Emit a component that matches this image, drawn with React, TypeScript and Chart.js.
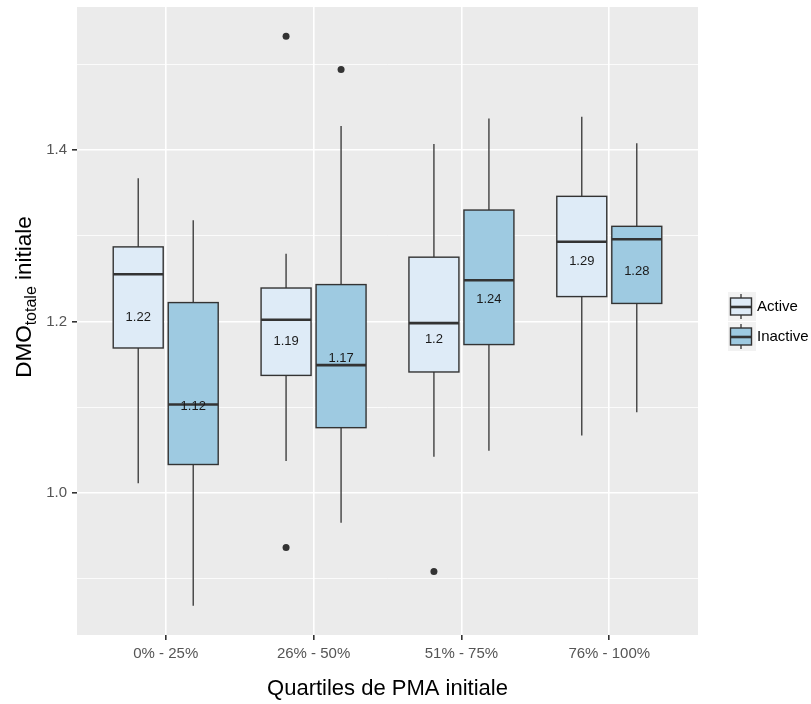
import { useEffect, useRef } from "react";
import { Chart, registerables } from "chart.js";

Chart.register(...registerables);

// ---------- data ----------
const categories = ["0% - 25%", "26% - 50%", "51% - 75%", "76% - 100%"];
const seriesNames = ["Active", "Inactive"];

const activeLow = [1.011, 1.037, 1.042, 1.067];
const activeQ1 = [1.169, 1.137, 1.141, 1.229];
const activeMedian = [1.255, 1.202, 1.198, 1.293];
const activeQ3 = [1.287, 1.239, 1.275, 1.346];
const activeHigh = [1.367, 1.279, 1.407, 1.439];
const activeMean = [1.222, 1.194, 1.196, 1.288];
const activeOutliers = [[], [1.533, 0.936], [0.908], []];

const inactiveLow = [0.868, 0.965, 1.049, 1.094];
const inactiveQ1 = [1.033, 1.076, 1.173, 1.221];
const inactiveMedian = [1.103, 1.149, 1.248, 1.296];
const inactiveQ3 = [1.222, 1.243, 1.33, 1.311];
const inactiveHigh = [1.318, 1.428, 1.437, 1.408];
const inactiveMean = [1.118, 1.174, 1.243, 1.276];
const inactiveOutliers = [[], [1.494], [], []];

const yMajorTicks = [1.0, 1.2, 1.4];
const yMinorTicks = [0.9, 1.1, 1.3, 1.5];

// ---------- style ----------
const FONT = "'Liberation Sans', Arial, Helvetica, sans-serif";
const fills = ["#DEEBF7", "#9ECAE1"];
const lineCol = "#333333";
const DODGE = 0.186;
const HALF_W = 0.169;

const series = [
  { low: activeLow, q1: activeQ1, med: activeMedian, q3: activeQ3, high: activeHigh, mean: activeMean, out: activeOutliers },
  { low: inactiveLow, q1: inactiveQ1, med: inactiveMedian, q3: inactiveQ3, high: inactiveHigh, mean: inactiveMean, out: inactiveOutliers },
];

function drawBox(ctx: CanvasRenderingContext2D, cx: number, hw: number, yLow: number, yQ1: number, yMed: number, yQ3: number, yHigh: number, fill: string) {
  ctx.save();
  ctx.strokeStyle = lineCol;
  ctx.lineWidth = 1.3;
  ctx.beginPath();
  ctx.moveTo(cx, yHigh);
  ctx.lineTo(cx, yQ3);
  ctx.moveTo(cx, yQ1);
  ctx.lineTo(cx, yLow);
  ctx.stroke();
  ctx.fillStyle = fill;
  ctx.fillRect(cx - hw, yQ3, hw * 2, yQ1 - yQ3);
  ctx.lineWidth = 1.4;
  ctx.strokeRect(cx - hw, yQ3, hw * 2, yQ1 - yQ3);
  ctx.lineWidth = 2.6;
  ctx.beginPath();
  ctx.moveTo(cx - hw, yMed);
  ctx.lineTo(cx + hw, yMed);
  ctx.stroke();
  ctx.restore();
}

const boxPlugin = {
  id: "ggBox",
  beforeDraw(chart: any) {
    const { ctx, chartArea: a } = chart;
    ctx.save();
    ctx.fillStyle = "#EBEBEB";
    ctx.fillRect(a.left, a.top, a.right - a.left, a.bottom - a.top);
    ctx.restore();
  },
  beforeDatasetsDraw(chart: any) {
    const { ctx } = chart;
    const xs = chart.scales.x;
    const ys = chart.scales.y;
    series.forEach((s, si) => {
      const off = si === 0 ? -DODGE : DODGE;
      categories.forEach((_, i) => {
        const xv = i + 1 + off;
        const cx = xs.getPixelForValue(xv);
        const hw = xs.getPixelForValue(xv + HALF_W) - cx;
        drawBox(
          ctx, cx, hw,
          ys.getPixelForValue(s.low[i]),
          ys.getPixelForValue(s.q1[i]),
          ys.getPixelForValue(s.med[i]),
          ys.getPixelForValue(s.q3[i]),
          ys.getPixelForValue(s.high[i]),
          fills[si]
        );
      });
    });
    // mean labels
    ctx.save();
    ctx.font = `13px ${FONT}`;
    ctx.fillStyle = "#1a1a1a";
    ctx.textAlign = "center";
    ctx.textBaseline = "middle";
    series.forEach((s, si) => {
      const off = si === 0 ? -DODGE : DODGE;
      categories.forEach((_, i) => {
        const cx = xs.getPixelForValue(i + 1 + off);
        const y = ys.getPixelForValue(s.mean[i]) + 15;
        ctx.fillText(String(Number(s.mean[i].toFixed(2))), cx, y);
      });
    });
    ctx.restore();
  },
  afterDraw(chart: any) {
    const { ctx, chartArea: a } = chart;
    ctx.save();
    // x title
    ctx.fillStyle = "#000";
    ctx.font = `22px ${FONT}`;
    ctx.textAlign = "center";
    ctx.textBaseline = "middle";
    ctx.fillText("Quartiles de PMA initiale", (a.left + a.right) / 2, 689);
    // y title with subscript
    ctx.save();
    ctx.translate(23, 297);
    ctx.rotate(-Math.PI / 2);
    ctx.textBaseline = "alphabetic";
    ctx.textAlign = "left";
    const big = `22.5px ${FONT}`;
    const small = `16px ${FONT}`;
    ctx.font = big;
    const w1 = ctx.measureText("DMO").width;
    const w3 = ctx.measureText(" initiale").width;
    ctx.font = small;
    const w2 = ctx.measureText("totale").width;
    const total = w1 + w2 + w3;
    let x = -total / 2;
    const base = 8;
    ctx.font = big;
    ctx.fillText("DMO", x, base);
    x += w1;
    ctx.font = small;
    ctx.fillText("totale", x, base + 5);
    x += w2;
    ctx.font = big;
    ctx.fillText(" initiale", x, base);
    ctx.restore();

    // legend
    const keyX = 728;
    const keyW = 28;
    const keyH = 29;
    const top0 = 292;
    seriesNames.forEach((name, i) => {
      const ky = top0 + i * (keyH + 1);
      ctx.fillStyle = "#F2F2F2";
      ctx.fillRect(keyX, ky, keyW, keyH);
      const cx = keyX + 13;
      drawBox(ctx, cx, 10.5, ky + keyH - 2, ky + 23, ky + 15, ky + 6, ky + 2, fills[i]);
      ctx.fillStyle = "#000";
      ctx.font = `15px ${FONT}`;
      ctx.textAlign = "left";
      ctx.textBaseline = "middle";
      ctx.fillText(name, keyX + keyW + 1, ky + 15);
    });
    ctx.restore();
  },
};

export default function App() {
  const ref = useRef<HTMLCanvasElement | null>(null);

  useEffect(() => {
    document.body.style.margin = "0";
    const canvas = ref.current;
    if (!canvas) return;

    const outlierData = (si: number) => {
      const off = si === 0 ? -DODGE : DODGE;
      const pts: { x: number; y: number }[] = [];
      series[si].out.forEach((arr, i) => arr.forEach((v) => pts.push({ x: i + 1 + off, y: v })));
      return pts;
    };

    const yTicks = [...yMinorTicks, ...yMajorTicks].sort((p, q) => p - q);
    const isMajor = (v: number) => yMajorTicks.some((m) => Math.abs(m - v) < 1e-6);

    const chart = new Chart(canvas, {
      type: "scatter",
      data: {
        datasets: seriesNames.map((name, si) => ({
          label: name,
          data: outlierData(si),
          pointRadius: 3.5,
          pointBackgroundColor: "#333333",
          pointBorderWidth: 0,
          pointBorderColor: "#333333",
        })),
      },
      options: {
        animation: false,
        responsive: true,
        maintainAspectRatio: false,
        layout: { padding: { top: 7, right: 113, left: 0, bottom: 0 } },
        plugins: { legend: { display: false }, tooltip: { enabled: false } },
        scales: {
          x: {
            type: "linear",
            min: 0.4,
            max: 4.6,
            afterBuildTicks: (scale: any) => {
              scale.ticks = categories.map((_, i) => ({ value: i + 1 }));
            },
            afterFit: (scale: any) => {
              scale.height = 69;
              scale.paddingLeft = 0;
              scale.paddingRight = 0;
            },
            ticks: {
              autoSkip: false,
              maxRotation: 0,
              padding: 5,
              color: "#555555",
              font: { family: FONT, size: 15 },
              callback: (v: any) => categories[Math.round(Number(v)) - 1] ?? "",
            },
            grid: { color: "#FFFFFF", lineWidth: 1.6, tickColor: "#333333", tickLength: 5 },
            border: { display: false },
          },
          y: {
            type: "linear",
            min: 0.834,
            max: 1.567,
            bounds: "data",
            afterBuildTicks: (scale: any) => {
              scale.ticks = yTicks.map((v) => ({ value: v }));
            },
            afterFit: (scale: any) => {
              scale.width = 77;
              scale.paddingTop = 0;
              scale.paddingBottom = 0;
            },
            ticks: {
              autoSkip: false,
              padding: 5,
              color: "#555555",
              font: { family: FONT, size: 15 },
              callback: (v: any) => (isMajor(Number(v)) ? Number(v).toFixed(1) : ""),
            },
            grid: {
              color: "#FFFFFF",
              lineWidth: (c: any) => (isMajor(c.tick?.value) ? 1.6 : 0.8),
              tickColor: (c: any) => (isMajor(c.tick?.value) ? "#333333" : "rgba(0,0,0,0)"),
              tickLength: 5,
            },
            border: { display: false },
          },
        },
      },
      plugins: [boxPlugin],
    });
    return () => chart.destroy();
  }, []);

  return (
    <div style={{ width: 811, height: 704, position: "relative" }}>
      <canvas ref={ref} />
    </div>
  );
}
